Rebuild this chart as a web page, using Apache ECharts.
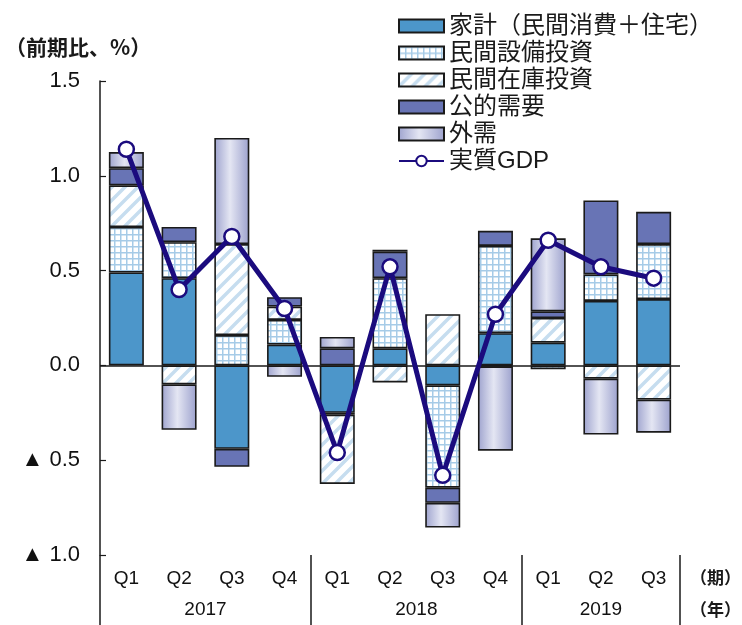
<!DOCTYPE html>
<html>
<head>
<meta charset="utf-8">
<title>実質GDP成長率の寄与度</title>
<script src="https://cdn.jsdelivr.net/npm/echarts@6.0.0/dist/echarts.min.js"></script>
</head>
<body style="margin:0">
<div id="main" style="width:742px;height:625px"></div>
<script>
// 四半期ラベル
var quarters = ['Q1', 'Q2', 'Q3', 'Q4', 'Q1', 'Q2', 'Q3', 'Q4', 'Q1', 'Q2', 'Q3'];
var years = ['2017', '2018', '2019'];
var yearQuarterCount = [4, 4, 3];

// 寄与度（%ポイント）
var household = [0.49, 0.46, -0.44, 0.11, -0.25, 0.09, -0.105, 0.17, 0.12, 0.34, 0.35];
var equipment = [0.24, 0.19, 0.16, 0.13, -0.01, 0.37, -0.54, 0.46, -0.02, 0.14, 0.29];
var inventory = [0.22, -0.10, 0.48, 0.07, -0.365, -0.09, 0.27, -0.005, 0.13, -0.07, -0.18];
var publicDemand = [0.09, 0.08, -0.095, 0.05, 0.09, 0.14, -0.08, 0.08, 0.035, 0.39, 0.17];
var externalDemand = [0.085, -0.24, 0.56, -0.06, 0.06, 0.01, -0.13, -0.445, 0.385, -0.295, -0.175];
var realGdp = [1.14, 0.40, 0.68, 0.30, -0.46, 0.52, -0.58, 0.27, 0.66, 0.52, 0.46];

// 年の区切りと中心
var yearStarts = [];
var yearCenter = {};
var pos = 0;
for (var i = 0; i < years.length; i++) {
    yearStarts.push(pos);
    yearCenter[pos + yearQuarterCount[i] / 2] = years[i];
    pos += yearQuarterCount[i];
}

function gridPattern() {
    var c = document.createElement('canvas');
    c.width = 6; c.height = 6;
    var g = c.getContext('2d');
    g.fillStyle = '#ffffff';
    g.fillRect(0, 0, 6, 6);
    g.fillStyle = '#a6cbe7';
    g.fillRect(0, 0, 6, 1.5);
    g.fillRect(0, 0, 1.5, 6);
    return c;
}
function stripePattern() {
    var s = 13;
    var c = document.createElement('canvas');
    c.width = s; c.height = s;
    var g = c.getContext('2d');
    g.fillStyle = '#ffffff';
    g.fillRect(0, 0, s, s);
    g.strokeStyle = '#c6ddef';
    g.lineWidth = 3.5;
    g.beginPath();
    [0, s, 2 * s].forEach(function (k) {
        g.moveTo(-3, k + 3);
        g.lineTo(k + 3, -3);
    });
    g.stroke();
    return c;
}

var fontLatin = "'Liberation Sans', 'Noto Sans CJK JP', sans-serif";

function barSeries(name, data, fill) {
    return {
        name: name,
        type: 'bar',
        stack: 'gdp',
        stackStrategy: 'samesign',
        data: data,
        barWidth: 35,
        itemStyle: { color: fill, borderColor: '#1a1a1a', borderWidth: 1.6 },
        emphasis: { disabled: true }
    };
}

var chart = echarts.init(document.getElementById('main'));
var option = {
    animation: false,
    textStyle: { fontFamily: fontLatin },
    title: {
        text: '（前期比、%）',
        left: 0,
        top: 32,
        textStyle: { fontSize: 21, fontWeight: 'bold', color: '#1a1a1a', fontFamily: "'Noto Sans CJK JP'" }
    },
    legend: {
        orient: 'vertical',
        left: 393,
        top: 9,
        itemWidth: 45,
        itemHeight: 13,
        itemGap: 3,
        textStyle: { fontSize: 24, color: '#1a1a1a', fontFamily: fontLatin },
        data: [
            { name: '家計（民間消費＋住宅）', icon: 'rect' },
            { name: '民間設備投資', icon: 'rect' },
            { name: '民間在庫投資', icon: 'rect' },
            { name: '公的需要', icon: 'rect' },
            { name: '外需', icon: 'rect' },
            { name: '実質GDP' }
        ]
    },
    grid: { left: 100, right: 62, top: 81, bottom: 70, containLabel: false, outerBoundsMode: 'none' },
    xAxis: [{
        type: 'category',
        data: quarters,
        position: 'bottom',
        axisLine: { show: false, onZero: false },
        axisTick: {
            show: true,
            length: 70,
            interval: function (index) { return yearStarts.indexOf(index) >= 0; },
            lineStyle: { color: '#1a1a1a', width: 1.5 }
        },
        axisLabel: { interval: 0, margin: 14, fontSize: 19, color: '#111111' }
    }, {
        type: 'value',
        min: 0,
        max: quarters.length,
        interval: 0.5,
        position: 'bottom',
        axisLine: { show: false, onZero: false },
        axisTick: { show: false },
        splitLine: { show: false },
        axisLabel: {
            margin: 45,
            fontSize: 19,
            color: '#111111',
            showMinLabel: true,
            showMaxLabel: true,
            formatter: function (v) { return yearCenter[v] || ''; }
        }
    }],
    yAxis: {
        type: 'value',
        min: -1.0,
        max: 1.5,
        interval: 0.5,
        axisLine: { show: true, lineStyle: { color: '#1a1a1a', width: 1.5 } },
        axisTick: { show: true, inside: true, length: 6, lineStyle: { color: '#1a1a1a', width: 1.2 } },
        splitLine: { show: false },
        axisLabel: {
            margin: 20,
            fontSize: 22,
            color: '#111111',
            formatter: function (v) {
                return v < 0 ? '▲ ' + Math.abs(v).toFixed(1) : v.toFixed(1);
            }
        }
    },
    graphic: [
        { type: 'text', left: 690, top: 569, style: { text: '（期）', font: 'bold 17px "Noto Sans CJK JP"', fill: '#1a1a1a' } },
        { type: 'text', left: 690, top: 601, style: { text: '（年）', font: 'bold 17px "Noto Sans CJK JP"', fill: '#1a1a1a' } }
    ],
    series: [
        barSeries('家計（民間消費＋住宅）', household, '#4c96ca'),
        barSeries('民間設備投資', equipment, { image: gridPattern(), repeat: 'repeat' }),
        barSeries('民間在庫投資', inventory, { image: stripePattern(), repeat: 'repeat' }),
        barSeries('公的需要', publicDemand, '#6874b5'),
        barSeries('外需', externalDemand, {
            type: 'linear', x: 0, y: 0, x2: 1, y2: 0,
            colorStops: [
                { offset: 0, color: '#9ea3ce' },
                { offset: 0.45, color: '#e4e6f3' },
                { offset: 1, color: '#9ca1cd' }
            ]
        }),
        {
            name: '実質GDP',
            type: 'line',
            data: realGdp,
            z: 5,
            symbol: 'circle',
            symbolSize: 15,
            lineStyle: { color: '#1b0b7e', width: 5 },
            itemStyle: { color: '#ffffff', borderColor: '#1b0b7e', borderWidth: 2.5 },
            emphasis: { disabled: true },
            markLine: {
                silent: true,
                symbol: ['none', 'none'],
                label: { show: false },
                lineStyle: { color: '#1a1a1a', width: 1.5, type: 'solid' },
                data: [{ yAxis: 0 }]
            }
        }
    ]
};
chart.setOption(option);
</script>
</body>
</html>
